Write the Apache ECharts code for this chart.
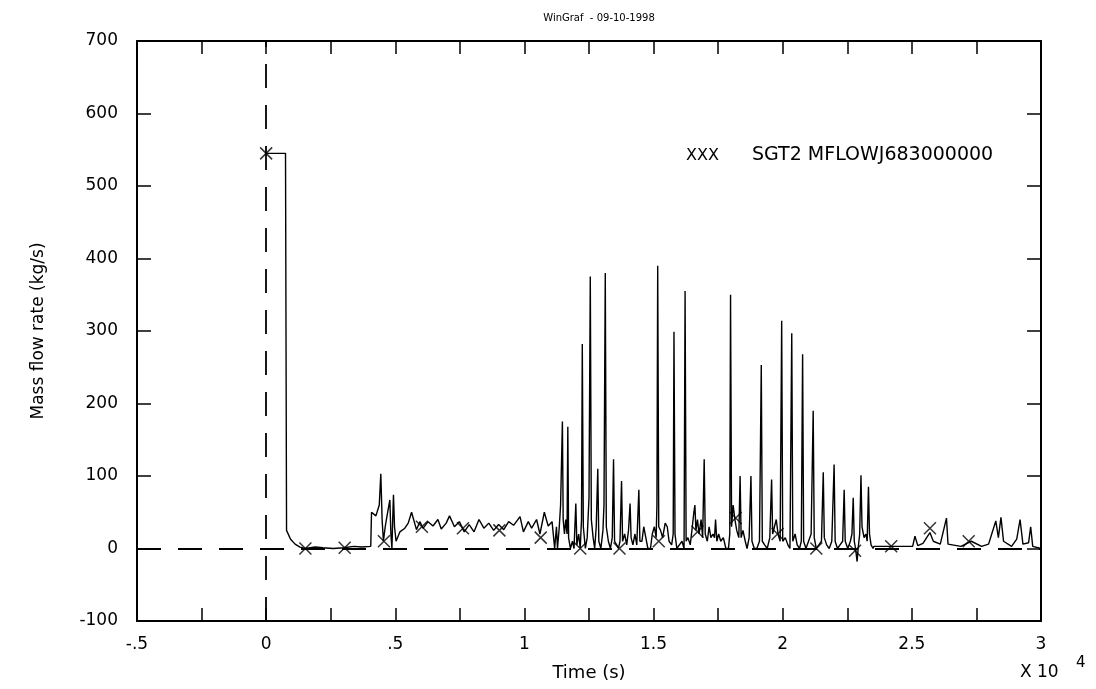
<!DOCTYPE html>
<html>
<head>
<meta charset="utf-8">
<script src="https://cdn.jsdelivr.net/npm/echarts@6/dist/echarts.min.js"></script>
<style>
  html, body { margin: 0; padding: 0; background: #fff; }
  #chart { width: 1096px; height: 689px; }
</style>
</head>
<body>
<div id="chart"></div>
<script>
// time in units of 10^4 s, flow in kg/s
var timeTicks = [-0.5, 0, 0.5, 1, 1.5, 2, 2.5, 3];
var timeTickLabels = ['-.5', '0', '.5', '1', '1.5', '2', '2.5', '3'];
var seriesName = 'SGT2 MFLOWJ683000000';

var startupFlow = [
  [0, 545], [0.075, 545], [0.079, 25], [0.094, 13], [0.112, 6], [0.131, 2],
  [0.150, 0], [0.19, 2], [0.22, 1], [0.26, 0], [0.30, 1], [0.34, 3], [0.37, 2], [0.405, 3]
];

var noiseFlow = [
  [0.408, 50], [0.425, 45], [0.438, 60], [0.444, 103], [0.449, 40], [0.454, 10],
  [0.461, 30], [0.468, 45], [0.479, 67], [0.483, 20], [0.487, 0], [0.490, 40],
  [0.493, 74], [0.497, 30], [0.503, 10], [0.518, 23], [0.537, 28], [0.550, 35],
  [0.563, 50], [0.582, 26], [0.595, 37], [0.608, 28], [0.627, 37], [0.646, 31],
  [0.665, 40], [0.678, 27], [0.697, 35], [0.710, 45], [0.729, 30], [0.748, 37],
  [0.767, 23], [0.786, 33], [0.805, 23], [0.824, 40], [0.843, 28], [0.862, 35],
  [0.881, 25], [0.900, 33], [0.920, 26], [0.939, 37], [0.958, 32], [0.983, 44],
  [0.996, 23], [1.015, 37], [1.028, 28], [1.047, 40], [1.060, 20], [1.077, 50],
  [1.092, 31], [1.107, 37], [1.117, 0], [1.124, 30], [1.128, 0]
];

var burstFlow = [
  [1.135, 30], [1.140, 60], [1.144, 58], [1.147, 175], [1.150, 40], [1.155, 20],
  [1.160, 40], [1.165, 20], [1.168, 168], [1.171, 15], [1.178, 0], [1.186, 10],
  [1.192, 0], [1.199, 62], [1.203, 5], [1.210, 20], [1.216, 0], [1.221, 40],
  [1.224, 282], [1.228, 30], [1.236, 0], [1.243, 15], [1.250, 70], [1.255, 375],
  [1.259, 40], [1.266, 15], [1.272, 0], [1.278, 30], [1.284, 110], [1.288, 10],
  [1.296, 0], [1.304, 25], [1.308, 60], [1.313, 380], [1.317, 30], [1.325, 10],
  [1.333, 0], [1.340, 15], [1.345, 123], [1.349, 10], [1.357, 5], [1.364, 0],
  [1.370, 10], [1.376, 93], [1.380, 10], [1.388, 20], [1.396, 5], [1.403, 25],
  [1.409, 62], [1.413, 15], [1.420, 5], [1.428, 20], [1.435, 5], [1.443, 81],
  [1.447, 10], [1.455, 10], [1.462, 30], [1.470, 15], [1.478, 0], [1.488, 0],
  [1.495, 20], [1.503, 30], [1.510, 15], [1.513, 60], [1.516, 390], [1.520, 30],
  [1.527, 25], [1.535, 15], [1.545, 35], [1.553, 30], [1.560, 10], [1.570, 5],
  [1.576, 20], [1.579, 299], [1.583, 20], [1.590, 0], [1.600, 5], [1.610, 10],
  [1.618, 0], [1.622, 355], [1.626, 10], [1.633, 15], [1.642, 5], [1.650, 30],
  [1.656, 50], [1.660, 60], [1.664, 25], [1.670, 40], [1.676, 20], [1.684, 40],
  [1.690, 15], [1.696, 123], [1.700, 20], [1.708, 10], [1.715, 30], [1.722, 15],
  [1.730, 20], [1.736, 15], [1.740, 40], [1.745, 10], [1.752, 20], [1.760, 10],
  [1.770, 15], [1.780, 0], [1.790, 0], [1.795, 20], [1.798, 350], [1.802, 30],
  [1.808, 60], [1.815, 40], [1.822, 25], [1.830, 15], [1.835, 100], [1.839, 15],
  [1.846, 25], [1.855, 10], [1.862, 0], [1.870, 15], [1.877, 100], [1.881, 10],
  [1.890, 0], [1.900, 0], [1.910, 10], [1.917, 253], [1.921, 10], [1.930, 5],
  [1.940, 0], [1.950, 15], [1.957, 95], [1.961, 20], [1.968, 30], [1.975, 40],
  [1.982, 20], [1.990, 10], [1.996, 314], [2.000, 10], [2.010, 15], [2.020, 5],
  [2.028, 0], [2.035, 297], [2.039, 10], [2.048, 20], [2.056, 5], [2.065, 0],
  [2.072, 10], [2.077, 268], [2.081, 10], [2.090, 0], [2.100, 10], [2.110, 20],
  [2.118, 190], [2.122, 15], [2.130, 0], [2.140, 5], [2.150, 10], [2.157, 105],
  [2.161, 15], [2.170, 5], [2.180, 0], [2.190, 10], [2.199, 116], [2.203, 10],
  [2.212, 0], [2.222, 5], [2.232, 10], [2.238, 81], [2.242, 10], [2.252, 0],
  [2.262, 10], [2.268, 20], [2.273, 70], [2.277, 10], [2.282, 0], [2.288, -18],
  [2.292, 0], [2.298, 20], [2.303, 101], [2.307, 30], [2.315, 15], [2.322, 20],
  [2.327, 10], [2.332, 85], [2.336, 20], [2.342, 5], [2.350, 0]
];

var tailFlow = [
  [2.353, 3], [2.372, 3], [2.503, 3], [2.512, 17], [2.523, 4], [2.543, 7],
  [2.570, 22], [2.583, 10], [2.610, 6], [2.634, 42], [2.640, 6], [2.690, 3],
  [2.730, 10], [2.770, 3], [2.797, 6], [2.825, 38], [2.835, 15], [2.845, 43],
  [2.855, 10], [2.886, 3], [2.906, 13], [2.919, 40], [2.930, 6], [2.952, 8],
  [2.960, 30], [2.968, 3], [3.0, 0]
];

var markerPoints = [
  [0, 545], [0.152, 0], [0.304, 1], [0.456, 10], [0.603, 30], [0.762, 28],
  [0.903, 25], [1.063, 15], [1.216, 0], [1.368, 0], [1.52, 10], [1.67, 23],
  [1.818, 42], [1.98, 20], [2.13, 0], [2.28, -3], [2.42, 3], [2.57, 28], [2.72, 10]
];

var font = 'DejaVu Sans';
var chart = echarts.init(document.getElementById('chart'));

function timeLabel(v) {
  for (var i = 0; i < timeTicks.length; i++) {
    if (Math.abs(timeTicks[i] - v) < 1e-6) return timeTickLabels[i];
  }
  return '';
}

var frameAxisX = {
  type: 'value', min: -0.5, max: 3, interval: 0.25,
  axisLine: { show: true, onZero: false, lineStyle: { color: '#000', width: 2 } },
  axisTick: { show: true, inside: true, length: 13, lineStyle: { color: '#000', width: 1.5 } },
  splitLine: { show: false }
};
var frameAxisY = {
  type: 'value', min: -100, max: 700, interval: 100,
  axisLine: { show: true, onZero: false, lineStyle: { color: '#000', width: 2 } },
  axisTick: { show: true, inside: true, length: 14, lineStyle: { color: '#000', width: 1.5 } },
  splitLine: { show: false }
};

var option = {
  animation: false,
  backgroundColor: '#fff',
  title: {
    text: 'WinGraf  - 09-10-1998',
    left: 594, top: 8, textAlign: 'center',
    textStyle: { fontFamily: font, fontSize: 10, fontWeight: 'normal', color: '#000' }
  },
  grid: { left: 137, right: 55, top: 41, bottom: 68 },
  legend: {
    left: 676, top: 141,
    itemWidth: 0, itemGap: 0,
    data: [{ name: seriesName, icon: 'none' }],
    formatter: function (name) { return '{x|XXX}{n|' + name + '}'; },
    textStyle: {
      color: '#000', fontFamily: font,
      rich: {
        x: { fontFamily: font, fontSize: 16, width: 66, color: '#000' },
        n: { fontFamily: font, fontSize: 19, color: '#000' }
      }
    }
  },
  xAxis: [
    Object.assign({}, frameAxisX, {
      position: 'bottom',
      name: 'Time (s)', nameLocation: 'middle', nameGap: 43,
      nameTextStyle: { fontFamily: font, fontSize: 18, color: '#000' },
      axisLabel: { show: true, margin: 15, fontFamily: font, fontSize: 17, color: '#000', formatter: timeLabel }
    }),
    Object.assign({}, frameAxisX, { position: 'top', axisLabel: { show: false } })
  ],
  yAxis: [
    Object.assign({}, frameAxisY, {
      position: 'left',
      name: 'Mass flow rate (kg/s)', nameLocation: 'middle', nameGap: 90,
      nameTextStyle: { fontFamily: font, fontSize: 17, color: '#000' },
      axisLabel: { show: true, margin: 19, fontFamily: font, fontSize: 17, color: '#000' }
    }),
    Object.assign({}, frameAxisY, { position: 'right', axisLabel: { show: false } })
  ],
  graphic: [
    { type: 'text', left: 1020, top: 664, style: { text: 'X 10', font: '17px "DejaVu Sans"', fill: '#000' } },
    { type: 'text', left: 1076, top: 656, style: { text: '4', font: '15px "DejaVu Sans"', fill: '#000' } }
  ],
  series: [
    {
      name: seriesName,
      type: 'line',
      xAxisIndex: 0, yAxisIndex: 0,
      data: [].concat(startupFlow, noiseFlow, burstFlow, tailFlow),
      showSymbol: false,
      lineStyle: { color: '#000', width: 1.4 },
      itemStyle: { color: '#000' },
      markLine: {
        silent: true,
        symbol: 'none',
        label: { show: false },
        lineStyle: { color: '#000', width: 1.8, type: [24, 17] },
        data: [{ xAxis: 0 }, { yAxis: 0 }]
      },
      z: 3
    },
    {
      name: 'markers',
      type: 'scatter',
      data: markerPoints,
      symbol: 'path://M0,0L10,10M10,0L0,10',
      symbolSize: 12,
      itemStyle: { color: 'rgba(0,0,0,0)', borderColor: '#000', borderWidth: 1.5 },
      z: 4
    }
  ]
};

chart.setOption(option);
</script>
</body>
</html>
